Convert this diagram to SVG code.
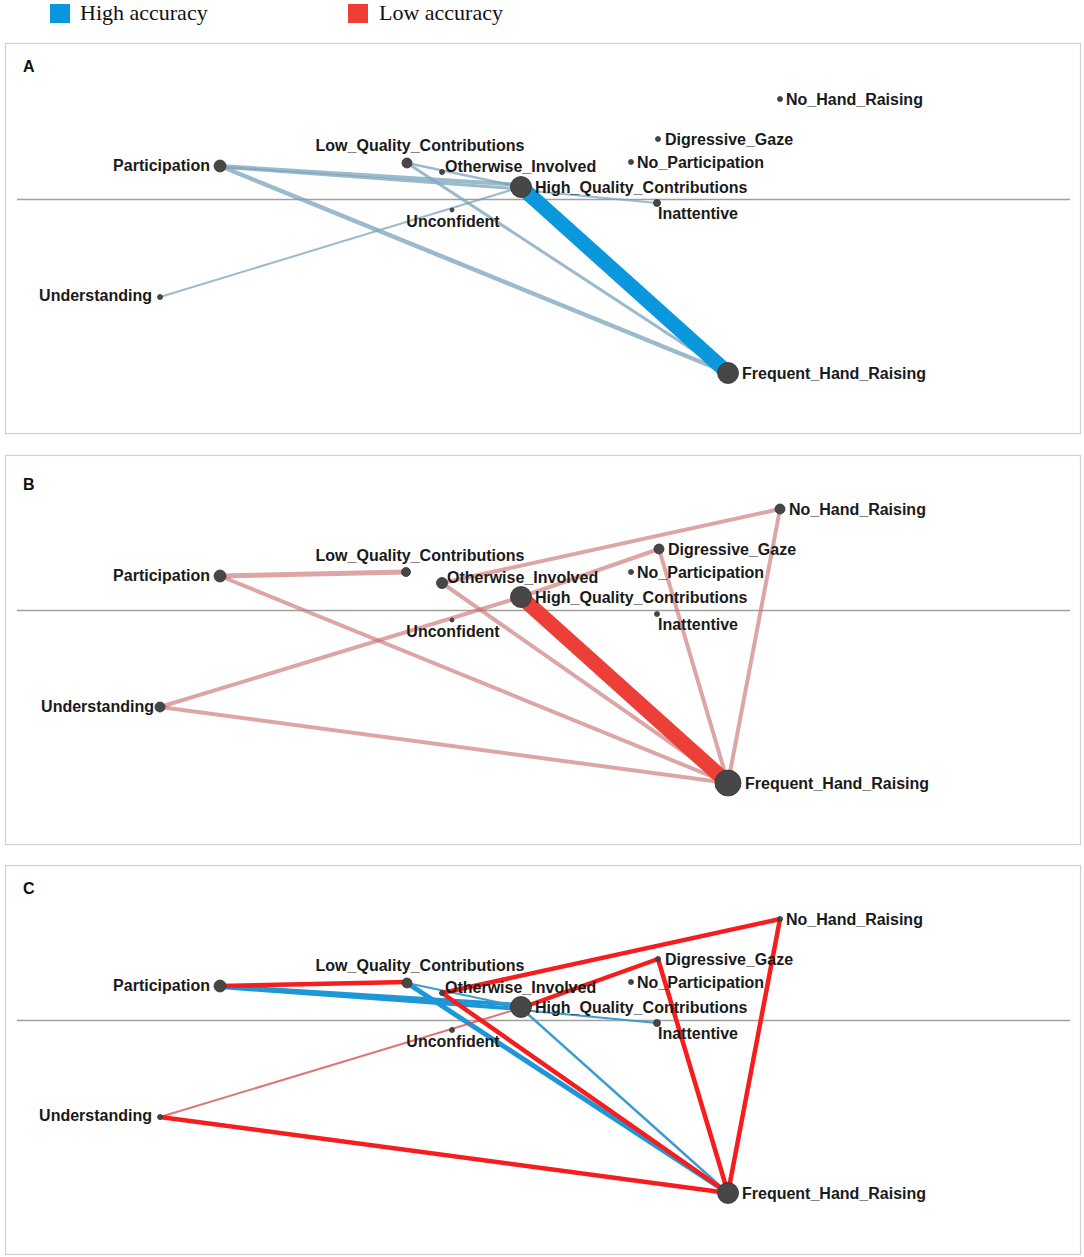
<svg xmlns="http://www.w3.org/2000/svg" width="1084" height="1257" viewBox="0 0 1084 1257">
<style>
.bg{fill:#fff}
.box{fill:#fff;stroke:#d0d0d0;stroke-width:1.2}
.axis{stroke:#a0a0a0;stroke-width:1.3}
.plab{font-family:"Liberation Sans",Arial,sans-serif;font-weight:bold;font-size:16px;fill:#111}
.lab{font-family:"Liberation Sans",Arial,sans-serif;font-weight:bold;font-size:16px;fill:#1a1a1a}
.leg{font-family:"Liberation Serif","Times New Roman",serif;font-size:22px;fill:#111}
.nd{fill:#474747;stroke:#333;stroke-width:0.8}
.ea{stroke:#7aa4bc;stroke-opacity:0.75;fill:none;stroke-linecap:round}
.eb{stroke:#c86e6e;stroke-opacity:0.62;fill:none;stroke-linecap:round}
.tb{stroke:#0a97db;fill:none}
.tr{stroke:#eb3f37;fill:none}
.cr{stroke:#f51d1d;fill:none;stroke-linecap:round;stroke-linejoin:round}
.cb{stroke:#1f97d6;fill:none;stroke-linecap:round}
.cbl{stroke:#3a9dd0;fill:none;stroke-linecap:round}
</style>
<rect class="bg" x="0" y="0" width="1084" height="1257"/>
<g id="legend">
<rect x="50" y="4" width="20" height="19" fill="#0a96dc"/>
<text class="leg" x="80" y="20">High accuracy</text>
<rect x="348" y="4" width="20" height="19" fill="#ef3e36"/>
<text class="leg" x="379" y="20">Low accuracy</text>
</g>

<!-- Panel A -->
<g id="panelA">
<rect class="box" x="5.5" y="43.5" width="1075" height="390"/>
<line class="axis" x1="17" y1="199.5" x2="1070" y2="199.5"/>
<text class="plab" x="23" y="72">A</text>
<g id="A-connectors">
<line class="ea" x1="220" y1="166" x2="521" y2="185" stroke-width="4"/>
<line class="ea" x1="220" y1="167" x2="521" y2="189" stroke-width="3"/>
<line class="ea" x1="220" y1="166" x2="728" y2="373" stroke-width="4.5"/>
<line class="ea" x1="407" y1="163" x2="521" y2="187" stroke-width="2.5"/>
<line class="ea" x1="407" y1="163" x2="728" y2="373" stroke-width="3"/>
<line class="ea" x1="160" y1="297" x2="521" y2="187" stroke-width="2"/>
<line class="ea" x1="521" y1="190" x2="657" y2="203" stroke-width="2"/>
<line class="tb" x1="521" y1="187" x2="728" y2="373" stroke-width="15"/>
</g>
<g id="A-participation"><circle class="nd" cx="220" cy="166" r="6"/><text class="lab" x="210" y="171" text-anchor="end">Participation</text></g>
<g id="A-low-quality"><circle class="nd" cx="407" cy="163" r="5"/><text class="lab" x="420" y="151" text-anchor="middle">Low_Quality_Contributions</text></g>
<g id="A-otherwise"><circle class="nd" cx="442" cy="172" r="2.5"/><text class="lab" x="445" y="172">Otherwise_Involved</text></g>
<g id="A-high-quality"><circle class="nd" cx="521" cy="187" r="10.5"/><text class="lab" x="535" y="193">High_Quality_Contributions</text></g>
<g id="A-unconfident"><circle class="nd" cx="452" cy="210" r="2"/><text class="lab" x="453" y="227" text-anchor="middle">Unconfident</text></g>
<g id="A-inattentive"><circle class="nd" cx="657" cy="203" r="3.5"/><text class="lab" x="658" y="219">Inattentive</text></g>
<g id="A-digressive"><circle class="nd" cx="658" cy="139" r="2.5"/><text class="lab" x="665" y="145">Digressive_Gaze</text></g>
<g id="A-no-participation"><circle class="nd" cx="631" cy="162" r="2.5"/><text class="lab" x="637" y="168">No_Participation</text></g>
<g id="A-no-hand"><circle class="nd" cx="780" cy="99" r="2.5"/><text class="lab" x="786" y="105">No_Hand_Raising</text></g>
<g id="A-understanding"><circle class="nd" cx="160" cy="297" r="2.5"/><text class="lab" x="152" y="301" text-anchor="end">Understanding</text></g>
<g id="A-frequent"><circle class="nd" cx="728" cy="373" r="10.5"/><text class="lab" x="742" y="379">Frequent_Hand_Raising</text></g>
</g>

<!-- Panel B -->
<g id="panelB">
<rect class="box" x="5.5" y="455.5" width="1075" height="389"/>
<line class="axis" x1="17" y1="610.5" x2="1070" y2="610.5"/>
<text class="plab" x="23" y="490">B</text>
<g id="B-connectors">
<line class="eb" x1="220" y1="576" x2="406" y2="572" stroke-width="5"/>
<line class="eb" x1="220" y1="576" x2="728" y2="783" stroke-width="4"/>
<line class="eb" x1="442" y1="583" x2="780" y2="509" stroke-width="4"/>
<line class="eb" x1="442" y1="583" x2="728" y2="783" stroke-width="4"/>
<line class="eb" x1="160" y1="707" x2="521" y2="597" stroke-width="4"/>
<line class="eb" x1="521" y1="597" x2="659" y2="549" stroke-width="4"/>
<line class="eb" x1="160" y1="707" x2="728" y2="783" stroke-width="4"/>
<line class="eb" x1="659" y1="549" x2="728" y2="783" stroke-width="4"/>
<line class="eb" x1="780" y1="509" x2="728" y2="783" stroke-width="4"/>
<line class="tr" x1="521" y1="597" x2="728" y2="783" stroke-width="15"/>
</g>
<g id="B-participation"><circle class="nd" cx="220" cy="576" r="6"/><text class="lab" x="210" y="581" text-anchor="end">Participation</text></g>
<g id="B-low-quality"><circle class="nd" cx="406" cy="572" r="4.5"/><text class="lab" x="420" y="561" text-anchor="middle">Low_Quality_Contributions</text></g>
<g id="B-otherwise"><circle class="nd" cx="442" cy="583" r="5.5"/><text class="lab" x="447" y="583">Otherwise_Involved</text></g>
<g id="B-high-quality"><circle class="nd" cx="521" cy="597" r="10.5"/><text class="lab" x="535" y="603">High_Quality_Contributions</text></g>
<g id="B-unconfident"><circle class="nd" cx="452" cy="620" r="2"/><text class="lab" x="453" y="637" text-anchor="middle">Unconfident</text></g>
<g id="B-inattentive"><circle class="nd" cx="657" cy="614" r="2.5"/><text class="lab" x="658" y="630">Inattentive</text></g>
<g id="B-digressive"><circle class="nd" cx="659" cy="549" r="5"/><text class="lab" x="668" y="555">Digressive_Gaze</text></g>
<g id="B-no-participation"><circle class="nd" cx="631" cy="572" r="2.5"/><text class="lab" x="637" y="578">No_Participation</text></g>
<g id="B-no-hand"><circle class="nd" cx="780" cy="509" r="5"/><text class="lab" x="789" y="515">No_Hand_Raising</text></g>
<g id="B-understanding"><circle class="nd" cx="160" cy="707" r="5"/><text class="lab" x="154" y="712" text-anchor="end">Understanding</text></g>
<g id="B-frequent"><circle class="nd" cx="728" cy="783" r="13"/><text class="lab" x="745" y="789">Frequent_Hand_Raising</text></g>
</g>

<!-- Panel C -->
<g id="panelC">
<rect class="box" x="5.5" y="865.5" width="1075" height="389"/>
<line class="axis" x1="17" y1="1020.5" x2="1070" y2="1020.5"/>
<text class="plab" x="23" y="894">C</text>
<g id="C-connectors">
<line class="cb" x1="220" y1="986" x2="521" y2="1005" stroke-width="4"/>
<line class="cb" x1="220" y1="987" x2="521" y2="1009" stroke-width="4"/>
<line class="cb" x1="407" y1="983" x2="728" y2="1193" stroke-width="5"/>
<line class="cbl" x1="407" y1="983" x2="521" y2="1007" stroke-width="2"/>
<line class="cbl" x1="521" y1="1010" x2="657" y2="1023" stroke-width="2"/>
<line class="cbl" x1="521" y1="1008" x2="728" y2="1193" stroke-width="2.5"/>
<line x1="160" y1="1117" x2="521" y2="1008" stroke="#d24a4a" stroke-opacity="0.75" stroke-width="2"/>
<line class="cr" x1="220" y1="986" x2="407" y2="982" stroke-width="4.5"/>
<line class="cr" x1="442" y1="993" x2="780" y2="919" stroke-width="4.5"/>
<line class="cr" x1="442" y1="993" x2="728" y2="1193" stroke-width="4.5"/>
<line class="cr" x1="521" y1="1008" x2="658" y2="959" stroke-width="4.5"/>
<line class="cr" x1="658" y1="959" x2="728" y2="1193" stroke-width="4.5"/>
<line class="cr" x1="780" y1="919" x2="728" y2="1193" stroke-width="4.5"/>
<line class="cr" x1="160" y1="1117" x2="728" y2="1193" stroke-width="4.5"/>
</g>
<g id="C-participation"><circle class="nd" cx="220" cy="986" r="6"/><text class="lab" x="210" y="991" text-anchor="end">Participation</text></g>
<g id="C-low-quality"><circle class="nd" cx="407" cy="983" r="5"/><text class="lab" x="420" y="971" text-anchor="middle">Low_Quality_Contributions</text></g>
<g id="C-otherwise"><circle class="nd" cx="442" cy="993" r="2.5"/><text class="lab" x="445" y="993">Otherwise_Involved</text></g>
<g id="C-high-quality"><circle class="nd" cx="521" cy="1007" r="10.5"/><text class="lab" x="535" y="1013">High_Quality_Contributions</text></g>
<g id="C-unconfident"><circle class="nd" cx="452" cy="1030" r="2.5"/><text class="lab" x="453" y="1047" text-anchor="middle">Unconfident</text></g>
<g id="C-inattentive"><circle class="nd" cx="657" cy="1023" r="3.5"/><text class="lab" x="658" y="1039">Inattentive</text></g>
<g id="C-digressive"><circle class="nd" cx="658" cy="959" r="2.5"/><text class="lab" x="665" y="965">Digressive_Gaze</text></g>
<g id="C-no-participation"><circle class="nd" cx="631" cy="982" r="2.5"/><text class="lab" x="637" y="988">No_Participation</text></g>
<g id="C-no-hand"><circle class="nd" cx="780" cy="919" r="2.5"/><text class="lab" x="786" y="925">No_Hand_Raising</text></g>
<g id="C-understanding"><circle class="nd" cx="160" cy="1117" r="2.5"/><text class="lab" x="152" y="1121" text-anchor="end">Understanding</text></g>
<g id="C-frequent"><circle class="nd" cx="728" cy="1193" r="10.5"/><text class="lab" x="742" y="1199">Frequent_Hand_Raising</text></g>
</g>
</svg>
